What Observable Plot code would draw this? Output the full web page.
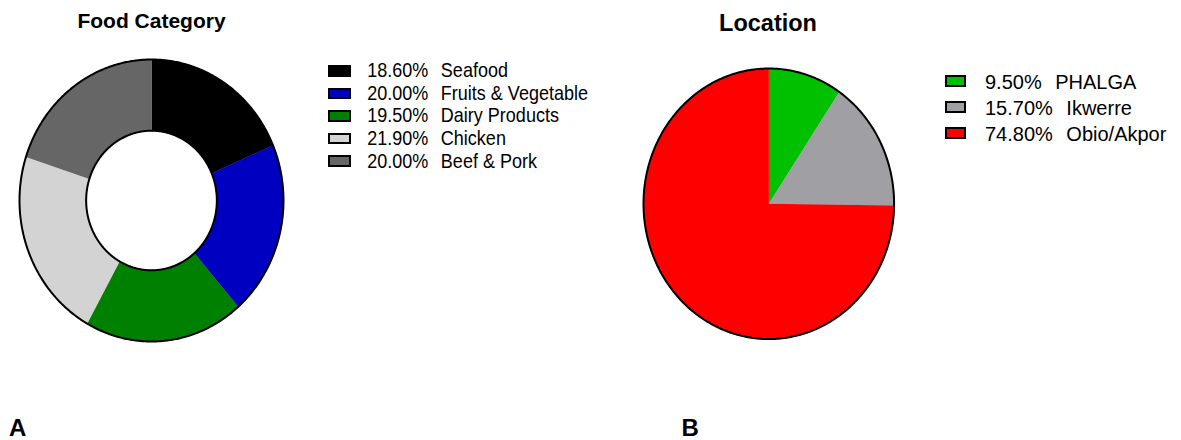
<!DOCTYPE html>
<html><head><meta charset="utf-8">
<script src="https://cdn.jsdelivr.net/npm/d3@7"></script>
<script src="https://cdn.jsdelivr.net/npm/@observablehq/plot@0.6"></script>
<style>
body{margin:0;background:#fff;font-family:"Liberation Sans",Arial,sans-serif;}
#fig{position:relative;width:1181px;height:440px;overflow:hidden;background:#fff;}
.abs{position:absolute;white-space:pre;line-height:1;color:#000;}
.title{font-weight:bold;}
.sw{position:absolute;box-sizing:border-box;border:2px solid #000;}
svg.pie{position:absolute;overflow:visible;}
</style></head><body><div id="fig"></div>
<script>
// ---- data ----
const foodCategories = ["Seafood", "Fruits & Vegetable", "Dairy Products", "Chicken", "Beef & Pork"];
const foodPercents = [18.6, 20.0, 19.5, 21.9, 20.0];
const locationCategories = ["PHALGA", "Ikwerre", "Obio/Akpor"];
const locationPercents = [9.5, 15.7, 74.8];
const panelTitles = ["Food Category", "Location"];
const panelLetters = ["A", "B"];
// ---- palettes ----
const foodColors = ["#000000", "#0000c0", "#008000", "#d3d3d3", "#666666"];
const locationColors = ["#00c000", "#a0a0a4", "#ff0000"];

const fig = document.getElementById("fig");

function slicePoints(cats, vals, inner) {
  const arcs = d3.pie().sort(null).value(d => d)(vals);
  const pts = [];
  arcs.forEach((a, i) => {
    const span = a.endAngle - a.startAngle;
    const n = Math.max(2, Math.ceil(span / 0.01));
    for (let k = 0; k <= n; k++) {
      const t = a.startAngle + span * k / n;
      pts.push({key: cats[i], x: Math.sin(t), y: Math.cos(t)});
    }
    if (inner > 0) {
      for (let k = n; k >= 0; k--) {
        const t = a.startAngle + span * k / n;
        pts.push({key: cats[i], x: inner * Math.sin(t), y: inner * Math.cos(t)});
      }
    } else {
      pts.push({key: cats[i], x: 0, y: 0});
    }
  });
  return pts;
}
function ring(r) {
  const n = 720, pts = [];
  for (let k = 0; k <= n; k++) {
    const t = 2 * Math.PI * k / n;
    pts.push({x: r * Math.sin(t), y: r * Math.cos(t)});
  }
  return pts;
}
function pie(cats, vals, colors, inner, rx, ry, cx, cy) {
  const m = 4;
  const marks = [
    Plot.line(slicePoints(cats, vals, inner), {x: "x", y: "y", z: "key", fill: "key", stroke: "key", strokeWidth: 0.6}),
    Plot.line(ring(1), {x: "x", y: "y", stroke: "#000", strokeWidth: 2, strokeLinejoin: "round"})
  ];
  if (inner > 0) marks.push(Plot.line(ring(inner), {x: "x", y: "y", stroke: "#000", strokeWidth: 2, strokeLinejoin: "round"}));
  const svg = Plot.plot({
    width: 2 * rx + 2 * m, height: 2 * ry + 2 * m, margin: m,
    x: {domain: [-1, 1], axis: null}, y: {domain: [-1, 1], axis: null},
    color: {domain: cats, range: colors},
    marks
  });
  svg.classList.add("pie");
  svg.style.left = (cx - rx - m) + "px";
  svg.style.top = (cy - ry - m) + "px";
  fig.appendChild(svg);
}
function text(str, left, baseline, size, bold, center) {
  const d = document.createElement("div");
  d.className = "abs" + (bold ? " title" : "");
  d.textContent = str;
  d.style.fontSize = size + "px";
  d.style.top = (baseline - 0.8465 * size) + "px";
  if (center) { d.style.left = left + "px"; d.style.transform = "translateX(-50%)"; }
  else d.style.left = left + "px";
  fig.appendChild(d);
  return d;
}
function legend(cats, vals, colors, o) {
  cats.forEach((c, i) => {
    const s = document.createElement("div");
    s.className = "sw";
    s.style.left = o.x + "px";
    s.style.top = (o.y + o.dy * i) + "px";
    s.style.width = o.w + "px";
    s.style.height = o.h + "px";
    s.style.background = colors[i];
    fig.appendChild(s);
    const d = document.createElement("div");
    d.className = "abs";
    d.style.fontSize = o.size + "px";
    d.style.left = o.tx + "px";
    d.style.top = (o.base + o.dy * i - 0.8465 * o.size) + "px";
    if (o.sy && o.sy !== 1) {
      d.style.transformOrigin = "0 " + (0.8465 * o.size) + "px";
      d.style.transform = "scaleY(" + o.sy + ")";
    }
    const p = document.createElement("span");
    p.textContent = vals[i].toFixed(2) + "%";
    const l = document.createElement("span");
    l.textContent = c;
    l.style.marginLeft = o.gap + "px";
    d.appendChild(p); d.appendChild(l);
    fig.appendChild(d);
  });
}

// Panel A
pie(foodCategories, foodPercents, foodColors, 0.495, 132, 141, 151.3, 199.6);
text(panelTitles[0], 151.5, 27.3, 21, true, true);
legend(foodCategories, foodPercents, foodColors, {x: 328.3, y: 65, dy: 22.6, w: 22.4, h: 11.7, tx: 367.3, base: 77.4, size: 18, gap: 12.5, sy: 1.12});
text(panelLetters[0], 9, 436, 24, true, false);

// Panel B
pie(locationCategories, locationPercents, locationColors, 0, 125.3, 135.3, 767.8, 203.2);
text(panelTitles[1], 768, 32.3, 23.5, true, true);
legend(locationCategories, locationPercents, locationColors, {x: 945, y: 75, dy: 25.85, w: 21.3, h: 12.3, tx: 985, base: 89, size: 20, gap: 13.5, sy: 1});
text(panelLetters[1], 681.5, 436, 24, true, false);
</script></body></html>
